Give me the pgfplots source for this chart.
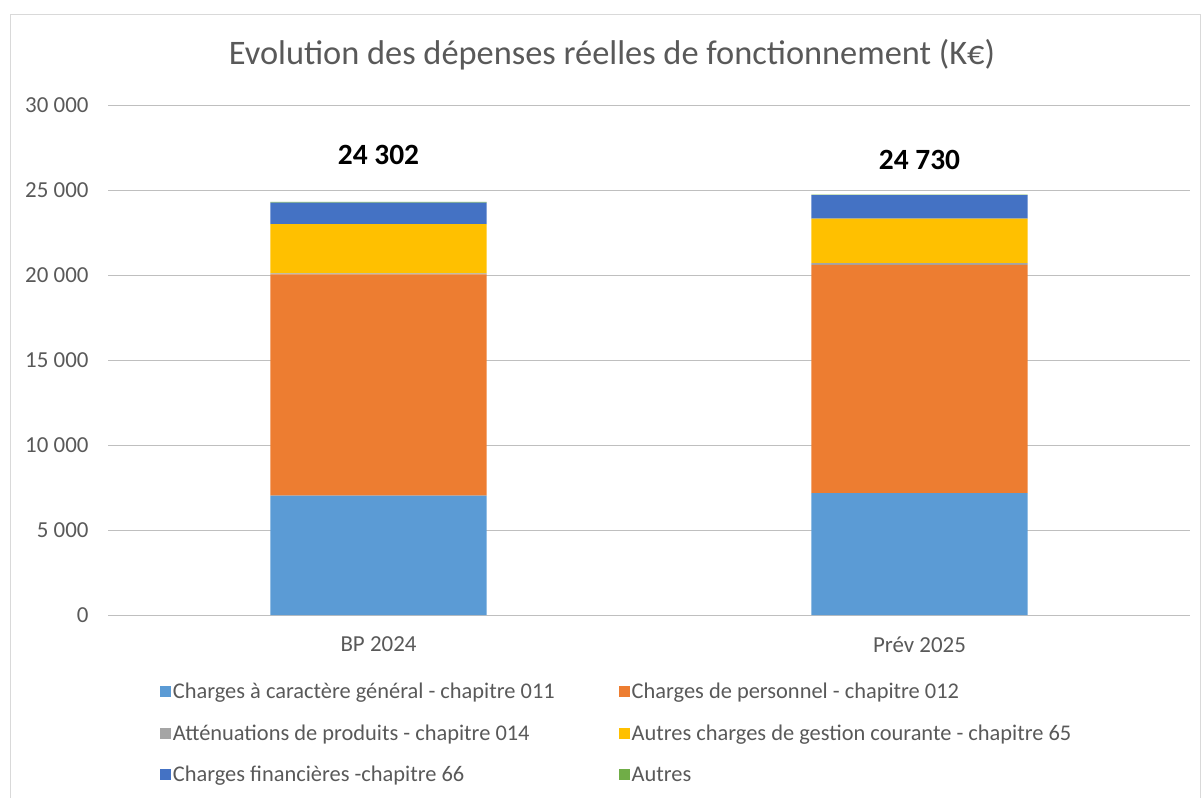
\documentclass[border=0pt]{standalone}
\usepackage{pgfplots}
\pgfplotsset{compat=1.18}
\usepackage{fontspec}
\setmainfont{Carlito}
\definecolor{cA}{HTML}{5B9BD5}
\definecolor{cB}{HTML}{ED7D31}
\definecolor{cC}{HTML}{A5A5A5}
\definecolor{cD}{HTML}{FFC000}
\definecolor{cE}{HTML}{4472C4}
\definecolor{cF}{HTML}{70AD47}
\definecolor{txt}{HTML}{595959}
\definecolor{grid}{HTML}{D9D9D9}
\begin{document}
\begin{tikzpicture}
\path[use as bounding box] (0,0) rectangle (1203bp,-798bp);
\draw[grid, line width=1bp] (10bp,-805bp) -- (10bp,-14bp) -- (1200bp,-14bp) -- (1200bp,-805bp);
\node[text=txt, font=\fontsize{34.5}{40}\selectfont] at (612bp,-55bp) {Evolution des dépenses réelles de fonctionnement (K€)};
\begin{axis}[
  at={(108bp,-615bp)}, anchor=south west,
  width=1082bp, height=510bp, scale only axis,
  ybar stacked, bar width=0.4,
  xmin=-0.5, xmax=1.5, ymin=0, ymax=30000,
  xtick={0,1}, xticklabels={BP 2024, Prév 2025},
  ytick={0,5000,...,30000},
  scaled y ticks=false,
  xmajorgrids=false, ymajorgrids=true, grid style={grid, line width=1bp},
  xtick style={draw=none}, ytick style={draw=none},
  axis line style={draw=none},
  major tick length=0pt,
  tick label style={text=txt, font=\fontsize{23}{27}\selectfont},
  xticklabel style={yshift=-18bp},
  yticklabel style={xshift=-16bp},
  /pgf/number format/.cd, assume math mode=true, 1000 sep={\ },
  /pgfplots/.cd,
  legend columns=2,
  legend cell align=left,
  legend style={at={(0.045,-0.125)}, anchor=north west, draw=none, fill=none,
    font=\fontsize{22.5}{27}\selectfont, text=txt,
    /tikz/every even column/.append style={column sep=62bp},
    row sep=20.5bp},
  legend image code/.code={\fill[#1] (0bp,-5.5bp) rectangle (11bp,5.5bp);},
  every axis plot/.append style={draw=none},
]
\addplot[fill=cA] coordinates {(0,7020) (1,7170)};
\addplot[fill=cB] coordinates {(0,13010) (1,13433)};
\addplot[fill=cC] coordinates {(0,70) (1,100)};
\addplot[fill=cD] coordinates {(0,2888) (1,2619)};
\addplot[fill=cE] coordinates {(0,1271) (1,1384)};
\addplot[fill=cF] coordinates {(0,43) (1,24)};
\legend{Charges à caractère général - chapitre 011, Charges de personnel - chapitre 012, Atténuations de produits - chapitre 014, Autres charges de gestion courante - chapitre 65, Charges financières -chapitre 66, Autres}
\node[font=\bfseries\fontsize{29.5}{34}\selectfont] at (axis cs:0,27050) {24 302};
\node[font=\bfseries\fontsize{29.5}{34}\selectfont] at (axis cs:1,26750) {24 730};
\end{axis}
\end{tikzpicture}
\end{document}
